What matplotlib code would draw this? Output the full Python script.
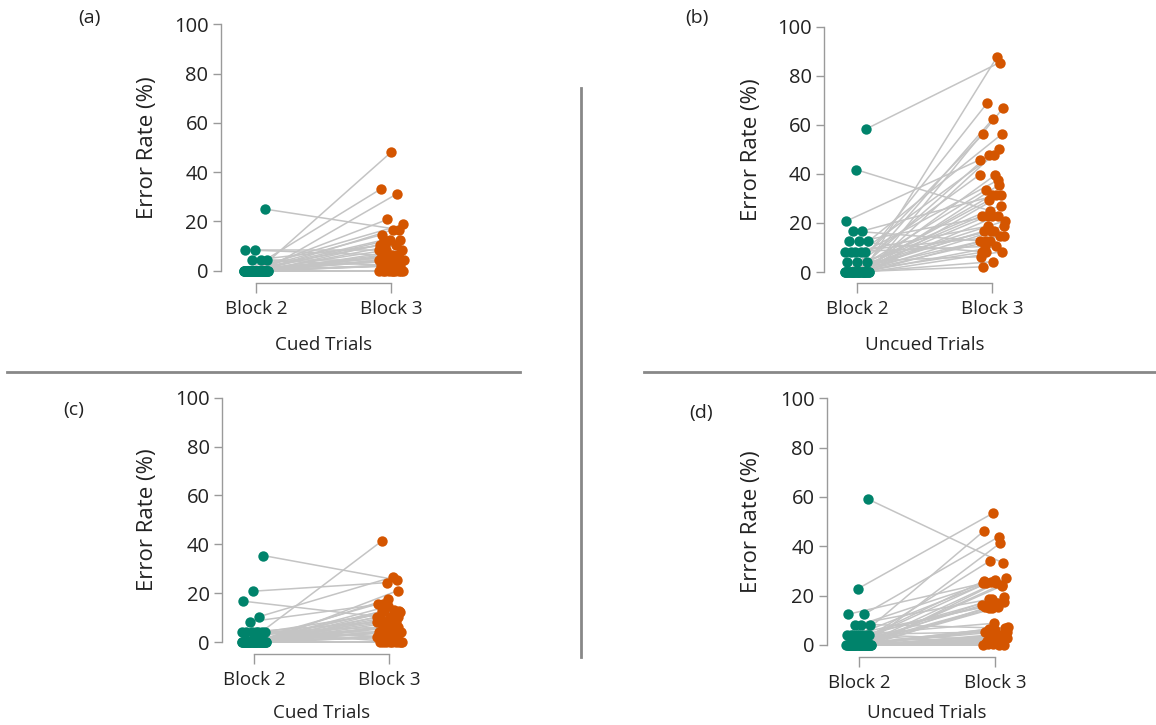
import numpy as np
import matplotlib
matplotlib.use("Agg")
import matplotlib.pyplot as plt

plt.rcParams["font.family"] = ["Open Sans", "DejaVu Sans"]

# --- data: error rate (%) per participant, block 2 paired with block 3 ---
blocks = ["Block 2", "Block 3"]

a_block2 = [25.0, 8.3, 8.3, 4.2, 4.2, 4.2] + [0.0] * 39
a_block3 = [16.7, 6.25, 8.3, 2.1, 10.4, 4.2,
            48.1, 33.3, 31.25, 20.8, 18.75, 16.7, 12.5, 12.5, 12.5, 10.4,
            10.4, 8.3, 8.3, 6.25, 6.25, 6.25, 4.2, 4.2, 4.2, 4.2, 2.1, 2.1,
            2.1, 2.1, 2.1, 0.0, 0.0, 0.0, 0.0, 0.0, 0.0, 0.0, 0.0, 0.0, 0.0,
            14.6, 6.25, 2.1, 4.2]

b_block2 = [58.3, 41.7, 20.8, 16.7, 16.7, 12.5, 12.5, 12.5,
            8.3, 8.3, 8.3, 8.3, 8.3, 4.2, 4.2, 4.2] + [0.0] * 29
b_block3 = [85.4, 25.0, 45.8, 31.25, 12.5, 56.25, 22.9, 8.3,
            37.5, 18.75, 14.6, 47.9, 10.4, 27.1, 16.7, 6.25,
            87.5, 68.75, 66.7, 62.5, 56.25, 50.0, 47.9, 39.6, 39.6, 33.3,
            31.25, 31.25, 22.9, 22.9, 22.9, 18.75, 16.7, 16.7, 14.6, 12.5,
            12.5, 10.4, 8.3, 8.3, 4.2, 2.1, 35.4, 29.2, 20.8]

c_block2 = [35.4, 20.8, 16.7, 10.4, 8.3] + [4.2] * 7 + [0.0] * 38
c_block3 = [25.4, 24.3, 10.4, 26.6, 15.6,
            12.5, 4.2, 2.1, 6.25, 8.3, 0.0, 2.1,
            41.3, 21.0, 17.5, 15.6, 13.0, 12.7, 12.4, 10.4, 10.4, 8.3, 8.3,
            8.3, 6.25, 6.25, 6.25, 6.25, 4.2, 4.2, 4.2, 4.2, 4.2, 2.1, 2.1,
            2.1, 2.1, 2.1, 0.0, 0.0, 0.0, 0.0, 0.0, 0.0, 0.0, 0.0,
            12.5, 10.4, 14.6, 2.1]

d_block2 = [59.1, 22.9, 12.5, 12.5, 8.3, 8.3, 8.3] + [4.2] * 8 + [0.0] * 35
d_block3 = [33.3, 53.4, 25.0, 43.9, 18.5, 6.8, 26.4,
            15.5, 2.0, 25.7, 5.4, 16.9, 0.4, 19.3, 8.8,
            46.2, 41.2, 34.1, 27.0, 25.3, 25.0, 24.0, 18.5, 16.2, 15.3, 15.0,
            17.5, 6.1, 5.4, 4.0, 3.4, 2.7, 2.3, 1.8, 1.1, 0.5, 0.0, 0.0, 6.5,
            4.6, 2.0, 1.0, 24.5, 14.8, 7.2, 3.0, 5.0, 0.0, 1.5, 26.0]

panel_tags = ["(a)", "(b)", "(c)", "(d)"]
conditions = ["Cued Trials", "Uncued Trials", "Cued Trials", "Uncued Trials"]

GREEN = "#00836b"
ORANGE = "#d45500"
LINE = "#c4c4c4"
SPINE = "#9a9a9a"
TEXT = "#222222"

W, H = 1156, 725
fig = plt.figure(figsize=(W / 100, H / 100), dpi=100)


def jitter(n, phase, width=0.095):
    # deterministic spread of the dots around each block position
    k = np.arange(n) + phase
    return ((k * 0.6180339887) % 1.0 - 0.5) * 2 * width


def add_panel(block2, block3, tag, condition, geo):
    x_axis, x_b2, x_b3, y0, y100, y_bot, tag_xy, ylab_x, xlab_y = geo
    ppx = x_b3 - x_b2
    ppy = (y0 - y100) / 100.0
    xmin = 1 - (x_b2 - x_axis) / ppx
    xmax = 2.3
    ymin = -(y_bot - y0) / ppy
    ax = fig.add_axes([x_axis / W, 1 - y_bot / H,
                       (xmax - xmin) * ppx / W, (y_bot - y100) / H])
    ax.set_xlim(xmin, xmax)
    ax.set_ylim(ymin, 100)

    j2 = jitter(len(block2), 3)
    j3 = jitter(len(block3), 11)
    for k in range(len(block2)):
        ax.plot([1 + j2[k], 2 + j3[k]], [block2[k], block3[k]],
                color=LINE, lw=1.1, zorder=1, solid_capstyle="round")
    ax.scatter(1 + j2, block2, s=56, color=GREEN, linewidths=0,
               zorder=3, clip_on=False)
    ax.scatter(2 + j3, block3, s=56, color=ORANGE, linewidths=0,
               zorder=3, clip_on=False)

    for side in ["top", "right"]:
        ax.spines[side].set_visible(False)
    ax.spines["left"].set_bounds(0, 100)
    ax.spines["bottom"].set_bounds(1, 2)
    for side in ["left", "bottom"]:
        ax.spines[side].set_color(SPINE)
        ax.spines[side].set_linewidth(1.0)

    ax.set_yticks([0, 20, 40, 60, 80, 100])
    ax.set_xticks([1, 2])
    ax.set_xticklabels(blocks)
    ax.tick_params(axis="y", length=6, width=1.0, color=SPINE, pad=3,
                   labelsize=14.5, labelcolor=TEXT)
    ax.tick_params(axis="x", length=7, width=1.0, color=SPINE, pad=5,
                   labelsize=13.5, labelcolor=TEXT)
    ax.patch.set_alpha(0)

    fig.text(ylab_x / W, 1 - (y0 + y100) / 2 / H, "Error Rate (%)",
             rotation=90, ha="center", va="center", fontsize=16, color=TEXT)
    fig.text((x_b2 + x_b3) / 2 / W, 1 - xlab_y / H, condition,
             ha="center", va="center", fontsize=13.5, color=TEXT)
    fig.text(tag_xy[0] / W, 1 - tag_xy[1] / H, tag,
             ha="center", va="center", fontsize=14, color=TEXT)


# pixel layout of each panel
layouts = [
    (221, 256, 391, 270.7, 24.3, 283, (89, 18), 148, 345),
    (824, 857, 992, 272.0, 26.7, 283, (697, 18), 752, 345),
    (222, 254, 389, 642.0, 397.7, 654, (74, 410), 148, 713),
    (827, 859, 995, 645.0, 398.3, 657, (701, 413), 752, 713),
]
data = [(a_block2, a_block3), (b_block2, b_block3),
        (c_block2, c_block3), (d_block2, d_block3)]

for (b2, b3), tag, cond, geo in zip(data, panel_tags, conditions, layouts):
    add_panel(b2, b3, tag, cond, geo)

# separators between the panels
sep = dict(color="#888888", lw=2.0)
fig.add_artist(plt.Line2D([7 / W, 520 / W], [1 - 372 / H, 1 - 372 / H], **sep))
fig.add_artist(plt.Line2D([644 / W, 1156 / W], [1 - 372 / H, 1 - 372 / H], **sep))
fig.add_artist(plt.Line2D([581 / W, 581 / W], [1 - 88 / H, 1 - 657 / H], **sep))

fig.savefig("out.png", dpi=100, facecolor="white")
